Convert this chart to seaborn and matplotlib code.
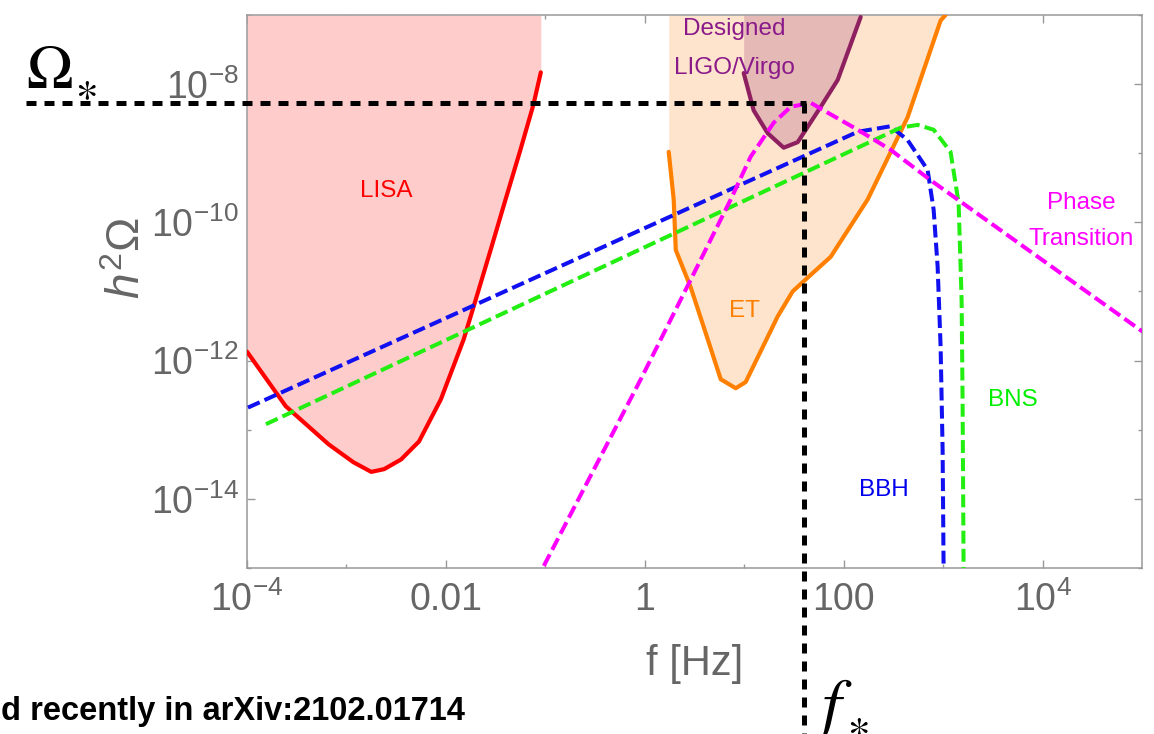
import matplotlib
matplotlib.use('Agg')
import numpy as np
import pandas as pd
import matplotlib.pyplot as plt
import seaborn as sns

# all curves are stored as log10 values
# LISA sensitivity (red)
lisa_logf = [-4.0, -3.61, -3.18, -2.93, -2.75, -2.62, -2.45, -2.27, -2.05, -1.82, -1.70, -1.55, -1.40, -1.25, -1.12, -1.045]
lisa_logh = [-11.87, -12.66, -13.21, -13.47, -13.61, -13.57, -13.43, -13.17, -12.56, -11.69, -11.12, -10.40, -9.67, -8.95, -8.30, -7.83]

# Einstein Telescope (orange)
et_logf = [0.241, 0.291, 0.312, 0.462, 0.633, 0.764, 0.915, 1.015, 1.337, 1.487, 1.638, 1.869, 2.241, 2.643, 2.975, 3.025]
et_logh = [-8.98, -9.67, -10.40, -10.94, -11.69, -12.27, -12.40, -12.31, -11.36, -11.00, -10.80, -10.50, -9.67, -8.48, -7.08, -7.0]

# Designed LIGO/Virgo (purple)
ligo_logf = [0.995, 1.095, 1.236, 1.397, 1.538, 1.769, 1.940, 2.171]
ligo_logh = [-7.84, -8.38, -8.71, -8.92, -8.84, -8.33, -7.94, -7.03]

# binary black holes (blue)
bbh_logf = [-3.99, 2.141, 2.472, 2.643, 2.844, 2.905, 2.945, 2.975, 2.995, 3.005]
bbh_logh = [-12.68, -8.69, -8.61, -8.81, -9.24, -9.82, -10.64, -11.80, -13.28, -15.0]

# binary neutron stars (green)
bns_logf = [-3.809, 2.573, 2.744, 2.905, 3.075, 3.156, 3.186, 3.196, 3.206]
bns_logh = [-12.92, -8.63, -8.59, -8.66, -8.98, -9.72, -11.12, -12.56, -15.0]

# phase transition (magenta)
pt_logf = [-1.015, -0.04, 0.462, 0.864, 1.065, 1.296, 1.467, 1.668, 1.799, 2.141, 2.472, 2.874, 5.005]
pt_logh = [-14.97, -12.27, -10.83, -9.67, -9.05, -8.56, -8.33, -8.27, -8.38, -8.66, -8.95, -9.39, -11.58]

# peak of the phase transition signal
f_star_log = 1.598
omega_star_log = -8.274

x_ticks = [1e-4, 1e-2, 1, 1e2, 1e4]
x_tick_labels = ['$10^{-4}$', '0.01', '1', '100', '$10^{4}$']
x_minor = [1e-3, 1e-1, 10, 1e3]
y_ticks = [1e-14, 1e-12, 1e-10, 1e-8]
y_tick_labels = ['$10^{-14}$', '$10^{-12}$', '$10^{-10}$', '$10^{-8}$']
y_minor = [1e-15, 1e-13, 1e-11, 1e-9, 1e-7]

sns.set_style('ticks')
plt.rcParams['font.family'] = ['Liberation Sans', 'DejaVu Sans']
plt.rcParams['mathtext.fontset'] = 'custom'
plt.rcParams['mathtext.rm'] = 'Liberation Sans'
plt.rcParams['mathtext.it'] = 'Liberation Sans:italic'
plt.rcParams['mathtext.bf'] = 'Liberation Sans:bold'

grey = '#666666'
frame = '#999999'
W, H = 1154, 734

fig = plt.figure(figsize=(W / 100, H / 100), dpi=100)
ax = fig.add_axes([0.214, 0.2262, 0.7756, 0.7534])

ymin, ymax = 1e-15, 1e-7


def curve(logf, logh):
    return pd.DataFrame({'f': np.power(10.0, logf), 'h2omega': np.power(10.0, logh)})


lisa = curve(lisa_logf, lisa_logh)
et = curve(et_logf, et_logh)
ligo = curve(ligo_logf, ligo_logh)
bbh = curve(bbh_logf, bbh_logh)
bns = curve(bns_logf, bns_logh)
pt = curve(pt_logf, pt_logh)

# sensitivity regions
ax.fill_between(lisa['f'], lisa['h2omega'], ymax, color='#ffcccc', lw=0, zorder=1)
ax.fill_between(et['f'], et['h2omega'], ymax, color='#fee4cc', lw=0, zorder=1)
ax.fill_between(ligo['f'], ligo['h2omega'], ymax, color='#e5b9b6', lw=0, zorder=1.5)

solid = [(lisa, '#ff0000'), (et, '#ff8000'), (ligo, '#8e2060')]
for df, c in solid:
    sns.lineplot(data=df, x='f', y='h2omega', ax=ax, color=c, lw=3.0,
                 sort=False, estimator=None, zorder=3)

dashed = [(bbh, '#1010f0'), (bns, '#22ee11'), (pt, '#ff00ff')]
for df, c in dashed:
    sns.lineplot(data=df, x='f', y='h2omega', ax=ax, color=c, lw=2.9,
                 sort=False, estimator=None, zorder=4)
    ax.lines[-1].set_dashes((3.2, 1.3))

ax.set_xscale('log')
ax.set_yscale('log')
ax.set_xlim(1e-4, 1e5)
ax.set_ylim(ymin, ymax)

# guide lines to the peak, running out of the axes
f_star = 10 ** f_star_log
omega_star = 10 ** omega_star_log
hl, = ax.plot([10 ** -6.22, 10 ** 1.62], [omega_star, omega_star], color='black',
              lw=3.6, clip_on=False, zorder=6)
vl, = ax.plot([f_star, f_star], [omega_star, 10 ** -17.4], color='black',
              lw=3.6, clip_on=False, zorder=6)
hl.set_dashes((2.0, 1.6))
vl.set_dashes((2.0, 1.6))

ax.set_xticks(x_ticks)
ax.set_xticklabels(x_tick_labels)
ax.set_xticks(x_minor, minor=True)
ax.set_yticks(y_ticks)
ax.set_yticklabels(y_tick_labels)
ax.set_yticks(y_minor, minor=True)
ax.xaxis.set_minor_formatter(plt.NullFormatter())
ax.yaxis.set_minor_formatter(plt.NullFormatter())
ax.tick_params(which='both', direction='in', top=True, right=True, color=frame, width=1.0)
ax.tick_params(which='major', length=5.8, labelsize=27, labelcolor=grey)
ax.tick_params(which='minor', length=3.0)
ax.tick_params(axis='x', which='major', pad=10)
ax.tick_params(axis='y', which='major', pad=6)
for s in ax.spines.values():
    s.set_color(frame)
    s.set_linewidth(1.1)

ax.set_xlabel('f [Hz]', fontsize=30, color=grey, labelpad=18)
ax.set_ylabel('$h^2\\Omega$', fontsize=33, color=grey)
ax.yaxis.set_label_coords(-0.108, 0.56)

# curve labels
lab = dict(fontsize=17.5, ha='center', va='center')
ax.text(10 ** -2.60, 10 ** -9.54, 'LISA', color='#ff0000', **lab)
ax.text(10 ** 1.0, 10 ** -11.28, 'ET', color='#ff8000', **lab)
ax.text(10 ** 0.9, 10 ** -7.2, 'Designed', color='#8a1a8a', **lab)
ax.text(10 ** 0.9, 10 ** -7.77, 'LIGO/Virgo', color='#8a1a8a', **lab)
ax.text(10 ** 2.4, 10 ** -13.87, 'BBH', color='#0000ee', **lab)
ax.text(10 ** 3.7, 10 ** -12.57, 'BNS', color='#00ee00', **lab)
ax.text(10 ** 4.39, 10 ** -9.72, 'Phase', color='#ff00ff', **lab)
ax.text(10 ** 4.39, 10 ** -10.24, 'Transition', color='#ff00ff', **lab)

# star labels outside the frame
star = dict(math_fontfamily='stix', color='black')
fig.text(26 / W, 1 - 88 / H, '$\\Omega$', fontsize=45, ha='left', va='baseline', **star)
fig.text(86 / W, 1 - 89 / H, '$\\ast$', fontsize=31, ha='center', va='center', **star)
fig.text(811 / W, 1 - 677 / H, '$f$', fontsize=50, ha='left', va='top', **star)
fig.text(858 / W, 1 - 726 / H, '$\\ast$', fontsize=31, ha='center', va='center', **star)
fig.text(1 / W, 1 - 720 / H, 'd recently in arXiv:2102.01714', fontsize=23.5,
         fontweight='bold', ha='left', va='baseline', color='black')

fig.savefig('out.png', dpi=100)
